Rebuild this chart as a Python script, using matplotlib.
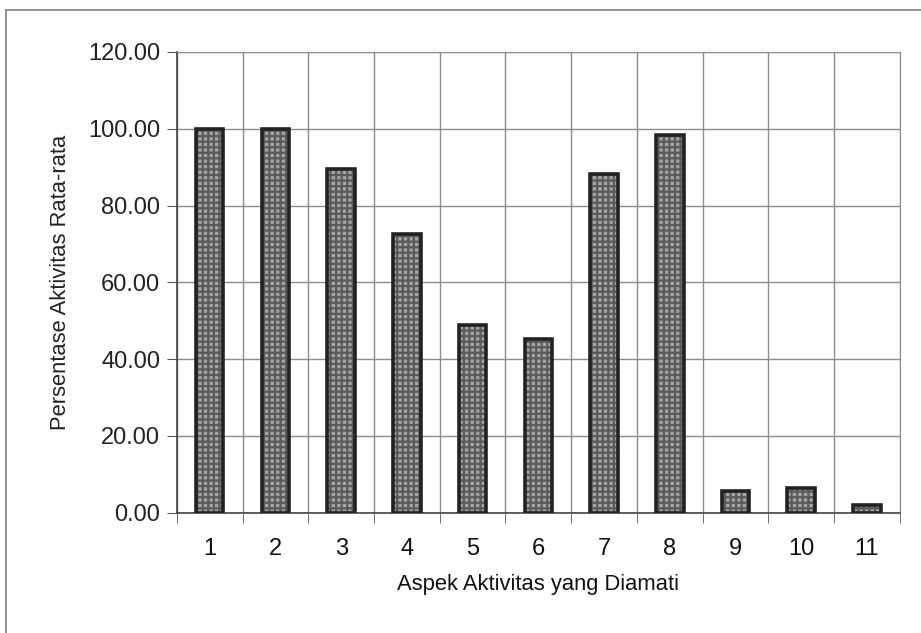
import numpy as np
import matplotlib.pyplot as plt
from matplotlib.patches import Rectangle

plt.rcParams['font.family'] = ['Liberation Sans', 'DejaVu Sans']
plt.rcParams['hatch.color'] = '#5a5a5a'
plt.rcParams['hatch.linewidth'] = 1.6

aspek = ["1", "2", "3", "4", "5", "6", "7", "8", "9", "10", "11"]
persentase = [100.0, 100.0, 89.6, 72.6, 48.9, 45.3, 88.2, 98.4, 5.6, 6.5, 2.1]
y_ticks = [0, 20, 40, 60, 80, 100, 120]


def main():
    fig = plt.figure(figsize=(9.21, 6.33), dpi=100)
    ax = fig.add_axes([0.192, 0.19, 0.785, 0.728])

    x = np.arange(len(aspek))
    # textured fill first, then the dark outline on top
    ax.bar(x, persentase, width=0.42, color='#a4a4a4', hatch='+++',
           linewidth=0, zorder=3)
    ax.bar(x, persentase, width=0.42, fill=False, edgecolor='#222222',
           linewidth=2.6, zorder=4)

    ax.set_xlim(-0.5, len(aspek) - 0.5)
    ax.set_ylim(0, 120)
    ax.set_yticks(y_ticks)
    ax.set_yticklabels(["%.2f" % v for v in y_ticks])
    ax.set_xticks(x)
    ax.set_xticklabels(aspek)
    ax.set_xticks(np.arange(-0.5, len(aspek)), minor=True)

    ax.grid(True, axis='y', color='#8c8c8c', linewidth=1.0, zorder=0)
    ax.grid(True, axis='x', which='minor', color='#8c8c8c', linewidth=1.0, zorder=0)
    ax.tick_params(axis='x', which='major', length=0, labelsize=17, pad=18,
                   labelcolor='#111111')
    ax.tick_params(axis='x', which='minor', length=7, direction='out', color='#555')
    ax.tick_params(axis='y', length=7, direction='out', labelsize=17, pad=5,
                   color='#555', labelcolor='#222222')

    for side in ['top', 'right']:
        ax.spines[side].set_color('#8c8c8c')
    for side in ['left', 'bottom']:
        ax.spines[side].set_color('#444444')
        ax.spines[side].set_linewidth(1.2)

    ax.set_xlabel("Aspek Aktivitas yang Diamati", fontsize=15.8, labelpad=10,
                  color='#111111')
    ax.set_ylabel("Persentase Aktivitas Rata-rata", fontsize=15.8, labelpad=12,
                  color='#222222')

    # frame around the whole chart area
    fig.patches.append(Rectangle((0.006, -0.02), 1.1, 1.004, transform=fig.transFigure,
                                 fill=False, edgecolor='#8a8a8a', linewidth=1.3))

    plt.savefig("out.png", dpi=100)


if __name__ == "__main__":
    main()
